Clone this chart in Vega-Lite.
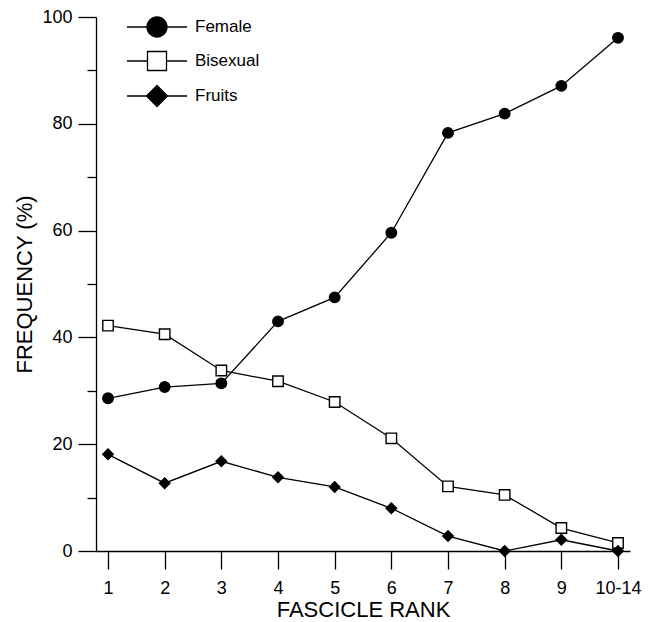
{
  "$schema": "https://vega.github.io/schema/vega-lite/v6.json",
  "width": 534,
  "height": 534,
  "autosize": {"type": "none"},
  "padding": {"left": 96, "top": 17, "right": 24, "bottom": 71},
  "background": "white",
  "config": {
    "view": {"stroke": null},
    "font": "Liberation Sans",
    "axis": {
      "domainColor": "black",
      "domainWidth": 1.3,
      "tickColor": "black",
      "tickWidth": 1.3,
      "labelColor": "black",
      "titleColor": "black",
      "labelFont": "Liberation Sans",
      "titleFont": "Liberation Sans",
      "labelFontSize": 18,
      "titleFontSize": 22,
      "titleFontWeight": "normal",
      "grid": false
    },
    "legend": {
      "title": null,
      "orient": "none",
      "legendX": 50,
      "legendY": -1,
      "padding": 0,
      "symbolSize": 400,
      "symbolStrokeWidth": 1.3,
      "symbolOpacity": 1,
      "labelFont": "Liberation Sans",
      "labelFontSize": 17,
      "labelColor": "black",
      "labelOffset": 27,
      "rowPadding": 8
    }
  },
  "data": {
    "values": [
      {"rank": "1", "series": "Female", "value": 28.6},
      {"rank": "2", "series": "Female", "value": 30.7},
      {"rank": "3", "series": "Female", "value": 31.4},
      {"rank": "4", "series": "Female", "value": 43.0},
      {"rank": "5", "series": "Female", "value": 47.5},
      {"rank": "6", "series": "Female", "value": 59.6},
      {"rank": "7", "series": "Female", "value": 78.3},
      {"rank": "8", "series": "Female", "value": 81.9},
      {"rank": "9", "series": "Female", "value": 87.1},
      {"rank": "10-14", "series": "Female", "value": 96.1},
      {"rank": "1", "series": "Bisexual", "value": 42.2},
      {"rank": "2", "series": "Bisexual", "value": 40.6},
      {"rank": "3", "series": "Bisexual", "value": 33.8},
      {"rank": "4", "series": "Bisexual", "value": 31.8},
      {"rank": "5", "series": "Bisexual", "value": 27.9},
      {"rank": "6", "series": "Bisexual", "value": 21.1},
      {"rank": "7", "series": "Bisexual", "value": 12.1},
      {"rank": "8", "series": "Bisexual", "value": 10.5},
      {"rank": "9", "series": "Bisexual", "value": 4.3},
      {"rank": "10-14", "series": "Bisexual", "value": 1.5},
      {"rank": "1", "series": "Fruits", "value": 18.1},
      {"rank": "2", "series": "Fruits", "value": 12.7},
      {"rank": "3", "series": "Fruits", "value": 16.8},
      {"rank": "4", "series": "Fruits", "value": 13.8},
      {"rank": "5", "series": "Fruits", "value": 12.0},
      {"rank": "6", "series": "Fruits", "value": 8.0},
      {"rank": "7", "series": "Fruits", "value": 2.8},
      {"rank": "8", "series": "Fruits", "value": 0.0},
      {"rank": "9", "series": "Fruits", "value": 2.1},
      {"rank": "10-14", "series": "Fruits", "value": 0.0}
    ]
  },
  "encoding": {
    "x": {
      "field": "rank",
      "type": "ordinal",
      "sort": ["1", "2", "3", "4", "5", "6", "7", "8", "9", "10-14"],
      "scale": {"type": "point", "padding": 0.212},
      "axis": {
        "title": "FASCICLE RANK",
        "labelAngle": 0,
        "tickSize": 18,
        "labelPadding": 10,
        "titlePadding": 2
      }
    }
  },
  "layer": [
    {
      "mark": {"type": "line", "color": "black", "strokeWidth": 1.3},
      "encoding": {
        "y": {
          "field": "value",
          "type": "quantitative",
          "scale": {"domain": [0, 100], "nice": false, "zero": true},
          "axis": {
            "orient": "left",
            "title": "FREQUENCY (%)",
            "values": [0, 20, 40, 60, 80, 100],
            "tickSize": 18,
            "labelPadding": 6,
            "titlePadding": 5
          }
        },
        "detail": {"field": "series"}
      }
    },
    {
      "mark": {"type": "point", "stroke": "black", "strokeWidth": 1.4, "opacity": 1, "size": 110},
      "encoding": {
        "y": {
          "field": "value",
          "type": "quantitative",
          "axis": {
            "orient": "left",
            "title": null,
            "values": [10, 30, 50, 70, 90],
            "tickSize": 9,
            "labels": false,
            "domain": false
          }
        },
        "shape": {
          "field": "series",
          "type": "nominal",
          "scale": {"domain": ["Female", "Bisexual", "Fruits"], "range": ["circle", "square", "diamond"]},
          "legend": null
        },
        "fill": {
          "field": "series",
          "type": "nominal",
          "scale": {"domain": ["Female", "Bisexual", "Fruits"], "range": ["black", "white", "black"]},
          "legend": null
        }
      }
    },
    {
      "mark": {"type": "point", "filled": true, "color": "black", "fill": "black", "stroke": "black", "strokeWidth": 1.3, "opacity": 0},
      "encoding": {
        "y": {"field": "value", "type": "quantitative", "axis": null},
        "shape": {
          "field": "series",
          "type": "nominal",
          "scale": {
            "domain": ["Female", "Bisexual", "Fruits"],
            "range": [
              "M-3,0H-1M1,0H3M-1,0A1,1,0,1,1,1,0A1,1,0,1,1,-1,0Z",
              "M-3,0H-0.95M0.95,0H3M-0.95,-0.95H0.95V0.95H-0.95ZM-0.95,-0.95V0.95H0.95V-0.95Z",
              "M-3,0H-1.05M1.05,0H3M-1.05,0L0,-1.05L1.05,0L0,1.05Z"
            ]
          },
          "legend": {}
        }
      }
    }
  ],
  "resolve": {
    "scale": {"shape": "independent", "fill": "independent"},
    "axis": {"y": "independent"}
  }
}
